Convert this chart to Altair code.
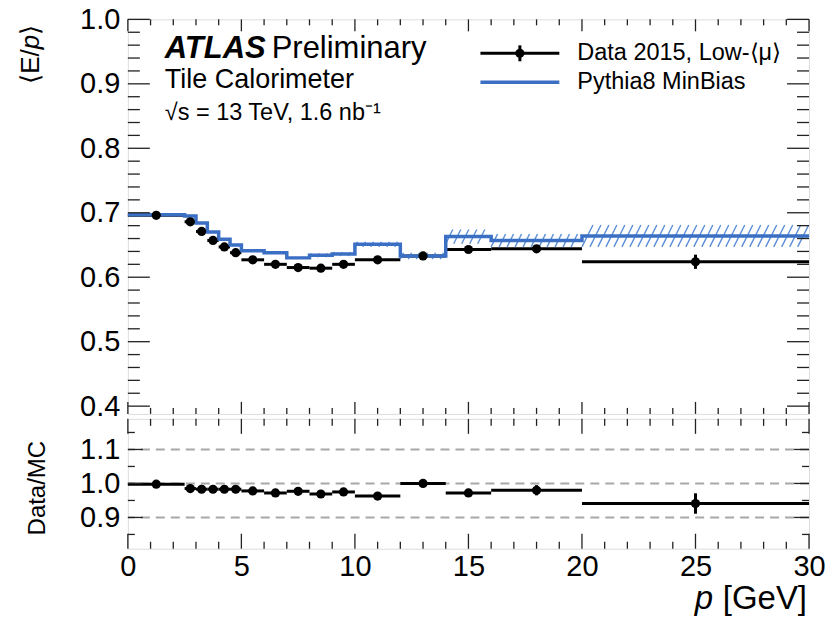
import altair as alt
import pandas as pd

# ---------------- values ----------------
bin_edges = [0, 2.5, 3, 3.5, 4, 4.5, 5, 6, 7, 8, 9, 10, 12, 14, 16, 20, 30]
data_ep = [0.696, 0.686, 0.671, 0.657, 0.647, 0.638, 0.627, 0.620, 0.615, 0.614,
           0.620, 0.627, 0.633, 0.643, 0.644, 0.624]
data_ep_err = [0.001, 0.001, 0.001, 0.001, 0.001, 0.001, 0.001, 0.001, 0.001, 0.002,
               0.002, 0.002, 0.003, 0.004, 0.005, 0.011]
mc_ep = [0.697, 0.695, 0.684, 0.670, 0.659, 0.650, 0.641, 0.638, 0.630, 0.634,
         0.636, 0.651, 0.633, 0.663, 0.657, 0.664]
mc_ep_err = [0.0015, 0.0015, 0.0015, 0.0015, 0.0015, 0.0015, 0.0015, 0.0015, 0.0015, 0.003,
             0.003, 0.004, 0.005, 0.011, 0.010, 0.017]
ratio = [0.998, 0.985, 0.983, 0.983, 0.983, 0.983, 0.978, 0.972, 0.977, 0.969,
         0.975, 0.963, 1.000, 0.972, 0.980, 0.941]
ratio_err = [0.002, 0.002, 0.002, 0.002, 0.002, 0.002, 0.002, 0.002, 0.002, 0.003,
             0.003, 0.003, 0.004, 0.010, 0.015, 0.030]

x_ticks = [0, 5, 10, 15, 20, 25, 30]
y_ticks_top = [0.4, 0.5, 0.6, 0.7, 0.8, 0.9, 1.0]
y_ticks_ratio = [0.9, 1.0, 1.1]
ratio_ref_lines = [0.9, 1.0, 1.1]

# ---------------- layout / style ----------------
FONT = "Liberation Sans"
W, H1, H2 = 682, 395, 130
X_DOM = [0, 30]
Y1_DOM = [0.388, 1.0]
Y2_DOM = [0.808, 1.19]
BLUE = "#3a6fc4"
HATCH = "#5b8ed8"
PX_GEV = W / (X_DOM[1] - X_DOM[0])
PX_UNIT = H1 / (Y1_DOM[1] - Y1_DOM[0])
HATCH_STEP = 8 / PX_GEV

xs = alt.Scale(domain=X_DOM, nice=False, zero=False)
ys1 = alt.Scale(domain=Y1_DOM, nice=False, zero=False)
ys2 = alt.Scale(domain=Y2_DOM, nice=False, zero=False)

bins = pd.DataFrame({
    "lo": bin_edges[:-1], "hi": bin_edges[1:],
    "data": data_ep, "derr": data_ep_err,
    "mc": mc_ep, "mcerr": mc_ep_err,
    "ratio": ratio, "rerr": ratio_err,
})
bins["c"] = (bins["lo"] + bins["hi"]) / 2
bins["d_lo"] = bins["data"] - bins["derr"]
bins["d_hi"] = bins["data"] + bins["derr"]
bins["r_lo"] = bins["ratio"] - bins["rerr"]
bins["r_hi"] = bins["ratio"] + bins["rerr"]

mc_step = pd.DataFrame({"p": bin_edges, "mc": mc_ep + [mc_ep[-1]]})

# hatched MC uncertainty band (diagonal strokes built from the band limits)
segs = []
for lo, hi, m, e in zip(bin_edges[:-1], bin_edges[1:], mc_ep, mc_ep_err):
    dx = 0.5 * (2 * e * PX_UNIT) / PX_GEV
    x = lo
    while x + dx <= hi + 1e-9:
        segs.append({"x1": x, "x2": x + dx, "y1": m - e, "y2": m + e})
        x += HATCH_STEP
hatch = pd.DataFrame(segs)

one = pd.DataFrame({"a": [0]})

ax_y1 = alt.Axis(values=y_ticks_top, format=".1f", labelFontSize=29, labelFont=FONT,
                 labelColor="black", labelPadding=8, ticks=False, tickSize=0, domain=False,
                 grid=False, title=None, labelFlush=False, labelOverlap=False)
ax_y2 = alt.Axis(values=y_ticks_ratio, format=".1f", labelFontSize=29, labelFont=FONT,
                 labelColor="black", labelPadding=8, ticks=False, tickSize=0, domain=False,
                 grid=False, title=None, labelFlush=False, labelOverlap=False)
ax_x = alt.Axis(values=x_ticks, format="d", labelFontSize=29, labelFont=FONT,
                labelColor="black", labelPadding=4, ticks=False, tickSize=0, domain=False,
                grid=False, title=None, labelFlush=False, labelOverlap=False)


def X(f, axis):
    return alt.X(f"{f}:Q", scale=xs, axis=axis)


def Y(f, sc, axis):
    return alt.Y(f"{f}:Q", scale=sc, axis=axis)


def ticks(values, sc, ax_y, ax_xx, orient, length, w, h):
    df = pd.DataFrame({"v": values})
    base = alt.Chart(df).mark_rule(color="#222", strokeWidth=1.3)
    if orient == "bottom":
        return base.encode(x=X("v", ax_xx), y=alt.value(h), y2=alt.value(h - length))
    if orient == "top":
        return base.encode(x=X("v", ax_xx), y=alt.value(0), y2=alt.value(length))
    if orient == "left":
        return base.encode(y=Y("v", sc, ax_y), x=alt.value(0), x2=alt.value(length))
    return base.encode(y=Y("v", sc, ax_y), x=alt.value(w), x2=alt.value(w - length))


def txt(s, x, y, size, **kw):
    return alt.Chart(one).mark_text(text=s, font=FONT, fontSize=size, color="black",
                                    align=kw.pop("align", "left"),
                                    baseline=kw.pop("baseline", "alphabetic"),
                                    **kw).encode(x=alt.value(x), y=alt.value(y))


x_minor = [v for v in range(0, 31) if v % 5 != 0]
y1_minor = [round(0.40 + 0.02 * i, 2) for i in range(31) if i % 5 != 0]
y2_minor = [0.85, 0.95, 1.05, 1.15]

# ---------------- top panel ----------------
d_h = alt.Chart(bins).mark_rule(color="black", strokeWidth=3).encode(
    x=X("lo", None), x2="hi", y=Y("data", ys1, ax_y1))
d_v = alt.Chart(bins).mark_rule(color="black", strokeWidth=3).encode(
    x=X("c", None), y=Y("d_lo", ys1, ax_y1), y2="d_hi")
h_l = alt.Chart(hatch).mark_rule(color=HATCH, strokeWidth=1.4, clip=True).encode(
    x=X("x1", None), x2="x2", y=Y("y1", ys1, ax_y1), y2="y2")
mc_l = alt.Chart(mc_step).mark_line(color=BLUE, strokeWidth=3.5, interpolate="step-after").encode(
    x=X("p", None), y=Y("mc", ys1, ax_y1))
d_p = alt.Chart(bins).mark_circle(color="black", opacity=1, size=85).encode(
    x=X("c", None), y=Y("data", ys1, ax_y1))

leg_line_d = alt.Chart(one).mark_rule(color="black", strokeWidth=3).encode(
    x=alt.value(353), x2=alt.value(432), y=alt.value(34))
leg_bar_d = alt.Chart(one).mark_rule(color="black", strokeWidth=3).encode(
    x=alt.value(392.5), y=alt.value(26), y2=alt.value(42))
leg_pt_d = alt.Chart(one).mark_circle(color="black", opacity=1, size=85).encode(
    x=alt.value(392.5), y=alt.value(34))
leg_line_mc = alt.Chart(one).mark_rule(color=BLUE, strokeWidth=3.5).encode(
    x=alt.value(353), x2=alt.value(432), y=alt.value(63))

T1 = (ys1, ax_y1, None)
top_layers = [
    d_h, d_v, h_l, mc_l, d_p,
    ticks(x_ticks, *T1, "bottom", 12, W, H1), ticks(x_minor, *T1, "bottom", 6, W, H1),
    ticks(x_ticks, *T1, "top", 12, W, H1), ticks(x_minor, *T1, "top", 6, W, H1),
    ticks(y_ticks_top, *T1, "left", 22, W, H1), ticks(y1_minor, *T1, "left", 12, W, H1),
    ticks(y_ticks_top, *T1, "right", 22, W, H1), ticks(y1_minor, *T1, "right", 12, W, H1),
    leg_line_d, leg_bar_d, leg_pt_d, leg_line_mc,
    txt("ATLAS", 37, 39, 31, fontStyle="italic", fontWeight="bold"),
    txt("Preliminary", 144, 39, 31),
    txt("Tile Calorimeter", 37, 69, 27),
    txt("\u221as = 13 TeV, 1.6 nb\u207b\u00b9", 37, 101, 23.5),
    txt("Data 2015, Low-\u27e8\u03bc\u27e9", 450, 41, 23.5),
    txt("Pythia8 MinBias", 450, 70, 23.5),
    txt("\u27e9", -89, 5.5, 26, angle=270, align="right"),
    txt("p", -89, 15.5, 26, angle=270, align="right", fontStyle="italic"),
    txt("\u27e8E/", -89, 30, 26, angle=270, align="right"),
]
top = alt.layer(*top_layers).properties(width=W, height=H1)

# ---------------- ratio panel ----------------
ref = alt.Chart(pd.DataFrame({"v": ratio_ref_lines})).mark_rule(
    color="#a8a8a8", strokeWidth=2, strokeDash=[9, 6]).encode(y=Y("v", ys2, ax_y2))
r_h = alt.Chart(bins).mark_rule(color="black", strokeWidth=3).encode(
    x=X("lo", ax_x), x2="hi", y=Y("ratio", ys2, ax_y2))
r_v = alt.Chart(bins).mark_rule(color="black", strokeWidth=3).encode(
    x=X("c", ax_x), y=Y("r_lo", ys2, ax_y2), y2="r_hi")
r_p = alt.Chart(bins).mark_circle(color="black", opacity=1, size=85).encode(
    x=X("c", ax_x), y=Y("ratio", ys2, ax_y2))

T2 = (ys2, ax_y2, ax_x)
bot_layers = [
    ref, r_h, r_v, r_p,
    ticks(x_ticks, *T2, "bottom", 15, W, H2), ticks(x_minor, *T2, "bottom", 7, W, H2),
    ticks(x_ticks, *T2, "top", 15, W, H2), ticks(x_minor, *T2, "top", 7, W, H2),
    ticks(y_ticks_ratio, *T2, "left", 15, W, H2), ticks(y2_minor, *T2, "left", 7, W, H2),
    ticks(y_ticks_ratio, *T2, "right", 15, W, H2), ticks(y2_minor, *T2, "right", 7, W, H2),
    txt("Data/MC", -83, 22, 24, angle=270, align="right"),
    txt("[GeV]", 680, 190, 33, align="right"),
    txt("p", 586, 190, 33, align="right", fontStyle="italic"),
]
bottom = alt.layer(*bot_layers).properties(width=W, height=H2)

chart = alt.vconcat(top, bottom, spacing=5, bounds="flush").properties(
    padding={"left": 9, "top": -4, "right": 5, "bottom": 5}
).configure_view(stroke="black", strokeWidth=2).configure(font=FONT)

chart.save("out.html", embed_options={"renderer": "svg", "actions": False})
